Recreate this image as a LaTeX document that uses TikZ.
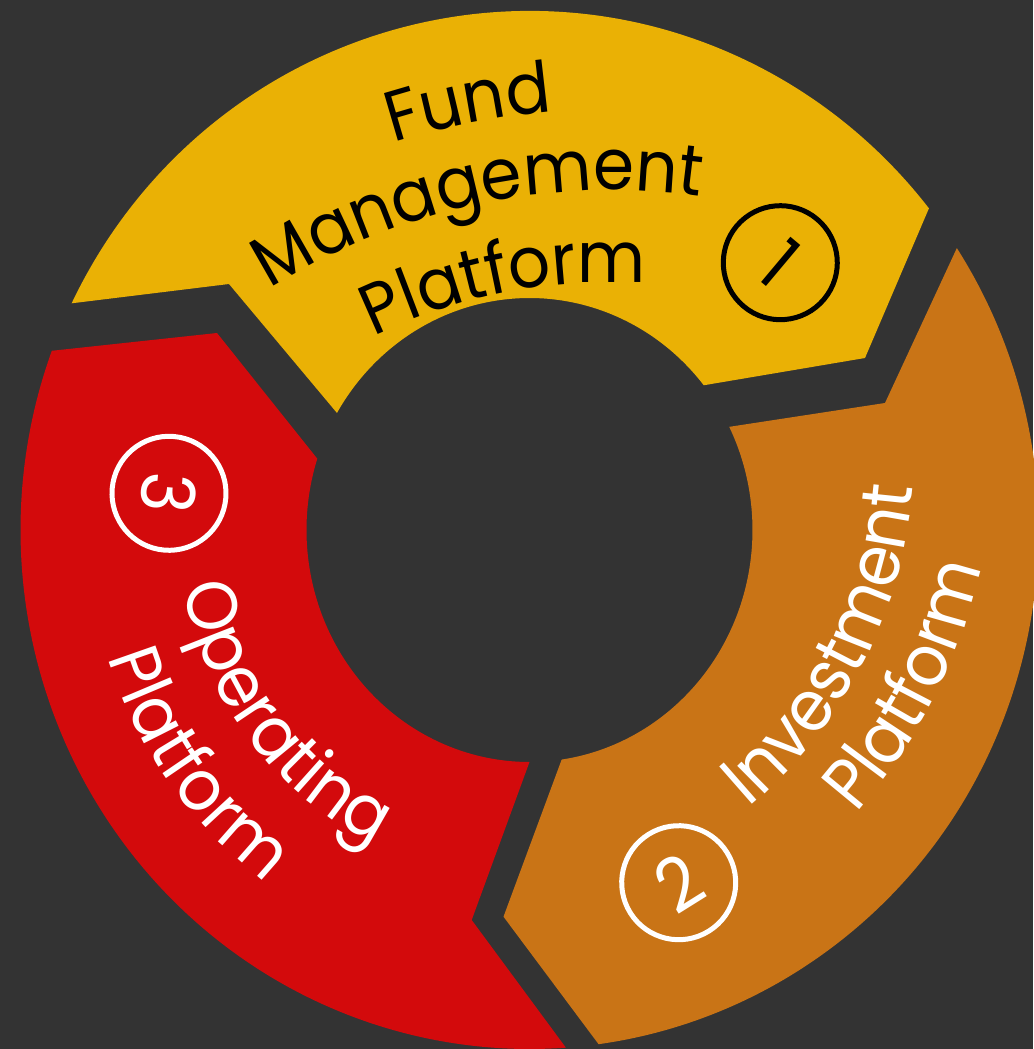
\documentclass[tikz,border=0pt]{standalone}
\usepackage{fontspec}
\setmainfont{Poppins}[FakeStretch=0.93]
\usetikzlibrary{decorations.text}
\definecolor{bggray}{RGB}{51,51,51}
\definecolor{fundyellow}{RGB}{234,177,5}
\definecolor{investorange}{RGB}{201,116,22}
\definecolor{operred}{RGB}{211,10,12}
\newcommand{\ringfont}{\fontsize{71}{84}\selectfont}
\tikzstyle{numcircle} = [circle, minimum size=114pt, line width=5pt, inner sep=0pt, font=\fontsize{74}{74}\selectfont]
\tikzstyle{curvetext} = [decorate, decoration={text along path, text align=center}]
\tikzstyle{outer} = [x radius=509, y radius=519]
\tikzstyle{inner} = [x radius=223, y radius=232]

\begin{document}
\begin{tikzpicture}[x=1pt, y=1pt]

\useasboundingbox (-529.5,-519) rectangle (503.5,530);
\fill[bggray] (-529.5,-519) rectangle (503.5,530);

\fill[fundyellow] (154.1:509 and 519) arc[outer, start angle=154.1, end angle=38.3] -- (335.5,172) -- (38.6:223 and 232) arc[inner, start angle=38.6, end angle=149.7] -- (-300.5,246) -- cycle;
\fill[investorange] (32.9:509 and 519) arc[outer, start angle=32.9, end angle=-82.2] -- (-26,-386.7) -- (-81.7:223 and 232) arc[inner, start angle=-81.7, end angle=26.4] -- (355.5,127) -- cycle;
\fill[operred] (-85.9:509 and 519) arc[outer, start angle=-85.9, end angle=-200.2] -- (-312.5,197) -- (-197.9:223 and 232) arc[inner, start angle=-197.9, end angle=-90] -- (-57.8,-390) -- cycle;

\path[curvetext, decoration={text color=black, text={|\ringfont|Fund}}] ([shift={(82.5,-300)}]131.2:721) arc[start angle=131.2, end angle=71.2, radius=721];
\path[curvetext, decoration={text color=black, text={|\ringfont|Management}}] ([shift={(82.5,-300)}]137.2:640) arc[start angle=137.2, end angle=67.2, radius=640];
\path[curvetext, decoration={text color=black, text={|\ringfont|Platform}}] ([shift={(82.5,-300)}]136.1:548) arc[start angle=136.1, end angle=66.1, radius=548];

\path[curvetext, decoration={text color=white, text={|\ringfont|Investment}}] ([shift={(-82.2,79.1)}]-72.1:467) arc[start angle=-72.1, end angle=17.9, radius=467];
\path[curvetext, decoration={text color=white, text={|\ringfont|Platform}}] ([shift={(-82.2,79.1)}]-71.9:546) arc[start angle=-71.9, end angle=18.1, radius=546];

\path[curvetext, decoration={text color=white, text={|\ringfont|Operating}}] (171.5:350) arc[start angle=171.5, end angle=261.5, radius=350];
\path[curvetext, decoration={text color=white, text={|\ringfont|Platform}}] (170:440) arc[start angle=170, end angle=260, radius=440];

\node[numcircle, draw=black, text=black, rotate=-40] (num1) at (250.8,267.3) {1};
\node[numcircle, draw=white, text=white, rotate=32] (num2) at (149.2,-352.7) {2};
\node[numcircle, draw=white, text=white, rotate=-95] (num3) at (-360.5,36.7) {3};

\end{tikzpicture}
\end{document}
